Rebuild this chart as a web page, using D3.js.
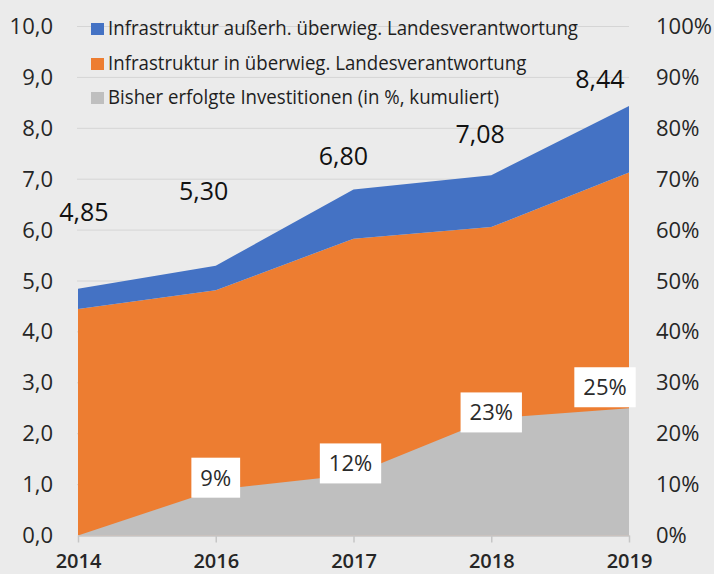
<!DOCTYPE html>
<html>
<head>
<meta charset="utf-8">
<script src="https://cdn.jsdelivr.net/npm/d3@7"></script>
<style>
    html, body { margin: 0; padding: 0; background: #ebebeb; }
    svg { display: block; }
</style>
</head>
<body>
<svg id="chart"></svg>
<script>
// data
var years = ["2014", "2016", "2017", "2018", "2019"];
var landesValues = [4.45, 4.82, 5.83, 6.06, 7.13];   // orange
var ausserhValues = [0.40, 0.48, 0.97, 1.02, 1.31];  // blue
var totalLabels = ["4,85", "5,30", "6,80", "7,08", "8,44"];
var investPct = [0, 9, 12, 23, 25];                   // gray, right axis
var leftTicks = [0, 1, 2, 3, 4, 5, 6, 7, 8, 9, 10];
var rightTicks = [0, 10, 20, 30, 40, 50, 60, 70, 80, 90, 100];
var legendLabels = [
    "Infrastruktur außerh. überwieg. Landesverantwortung",
    "Infrastruktur in überwieg. Landesverantwortung",
    "Bisher erfolgte Investitionen (in %, kumuliert)"
];

// hand placed label nudges (the source places these by hand)
var totalLabelNudge = [[6, -68], [-12, -66], [-10, -24], [-11, -32], [-29, -18]];
var pctLabelNudge = [null, [0, -12], [-3, -11], [0, -6], [-24, -21]];

var params = {
    width: 714,
    height: 574,
    left: 78,
    right: 629,
    top: 26.5,
    bottom: 535.5,
    background: "#ebebeb",
    gridColor: "#d5d5d5",
    axisColor: "#c6c6c6",
    textColor: "#262626",
    blue: "#4472c4",
    orange: "#ed7d31",
    gray: "#bfbfbf",
    font: "'Open Sans', 'Noto Sans', sans-serif"
};

var chart = {
    svg: null,
    x: null,
    y: null,
    yPct: null,
    setup: function() {
        this.svg = d3.select("#chart")
            .attr("width", params.width)
            .attr("height", params.height)
            .style("font-family", params.font);
        this.svg.append("rect")
            .attr("width", params.width)
            .attr("height", params.height)
            .attr("fill", params.background);
        this.x = d3.scalePoint().domain(years).range([params.left, params.right]);
        this.y = d3.scaleLinear().domain([0, 10]).range([params.bottom, params.top]);
        this.yPct = d3.scaleLinear().domain([0, 100]).range([params.bottom, params.top]);
    },
    drawGrid: function() {
        var me = this;
        this.svg.append("g").selectAll("line").data(leftTicks.slice(1)).enter()
            .append("line")
            .attr("x1", params.left - 1)
            .attr("x2", params.right)
            .attr("y1", function(d) { return me.y(d); })
            .attr("y2", function(d) { return me.y(d); })
            .attr("stroke", params.gridColor)
            .attr("stroke-width", 1);
    },
    drawAreas: function() {
        var me = this;
        var rows = years.map(function(yr, i) {
            return { year: yr, landes: landesValues[i], ausserh: ausserhValues[i] };
        });
        var series = d3.stack().keys(["landes", "ausserh"])(rows);
        var area = d3.area()
            .x(function(d) { return me.x(d.data.year); })
            .y0(function(d) { return me.y(d[0]); })
            .y1(function(d) { return me.y(d[1]); });
        var colors = [params.orange, params.blue];
        this.svg.append("g").selectAll("path").data(series).enter()
            .append("path")
            .attr("d", area)
            .attr("fill", function(d, i) { return colors[i]; });

        var grayArea = d3.area()
            .x(function(d, i) { return me.x(years[i]); })
            .y0(params.bottom)
            .y1(function(d) { return me.yPct(d); });
        this.svg.append("path")
            .datum(investPct)
            .attr("d", grayArea)
            .attr("fill", params.gray);
    },
    drawAxes: function() {
        var fmt = function(d) { return d3.format(".1f")(d).replace(".", ","); };
        var left = this.svg.append("g")
            .attr("transform", "translate(" + params.left + ",0)")
            .call(d3.axisLeft(this.y).tickValues(leftTicks).tickFormat(fmt).tickSize(0).tickPadding(25));
        var right = this.svg.append("g")
            .attr("transform", "translate(" + params.right + ",0)")
            .call(d3.axisRight(this.yPct).tickValues(rightTicks).tickFormat(function(d) { return d + "%"; })
                .tickSize(0).tickPadding(27));
        [left, right].forEach(function(g) {
            g.select(".domain").remove();
            g.selectAll("text")
                .attr("fill", params.textColor)
                .attr("font-size", 22)
                .attr("font-family", params.font);
        });

        // labels sit tight on the bottom edge like in the source
        var bottom = this.svg.append("g")
            .attr("transform", "translate(0," + params.bottom + ")")
            .call(d3.axisBottom(this.x).tickSize(7).tickSizeOuter(0).tickPadding(11));
        bottom.select(".domain").attr("stroke", params.axisColor).attr("stroke-width", 1.5);
        bottom.selectAll("line").attr("stroke", params.axisColor).attr("stroke-width", 1.5);
        bottom.selectAll("text")
            .attr("fill", params.textColor)
            .attr("font-size", 20)
            .attr("font-weight", 600)
            .attr("font-family", params.font);
    },
    drawLabels: function() {
        var me = this;
        var totals = landesValues.map(function(v, i) { return v + ausserhValues[i]; });
        this.svg.append("g").selectAll("text").data(totalLabels).enter()
            .append("text")
            .attr("x", function(d, i) { return me.x(years[i]) + totalLabelNudge[i][0]; })
            .attr("y", function(d, i) { return me.y(totals[i]) + totalLabelNudge[i][1]; })
            .attr("text-anchor", "middle")
            .attr("font-size", 25)
            .attr("fill", "#111")
            .text(function(d) { return d; });

        var boxH = 40;
        investPct.forEach(function(p, i) {
            if (!pctLabelNudge[i]) return;
            var cx = me.x(years[i]) + pctLabelNudge[i][0];
            var cy = me.yPct(p) + pctLabelNudge[i][1];
            var g = me.svg.append("g");
            var rect = g.append("rect").attr("fill", "#ffffff");
            var t = g.append("text")
                .attr("x", cx)
                .attr("y", cy + 8)
                .attr("text-anchor", "middle")
                .attr("font-size", 22)
                .attr("fill", "#2a2a2a")
                .text(p + "%");
            var w = t.node().getComputedTextLength() + 18;
            rect.attr("x", cx - w / 2)
                .attr("y", cy - boxH / 2)
                .attr("width", w)
                .attr("height", boxH);
        });
    },
    drawLegend: function() {
        var colors = [params.blue, params.orange, params.gray];
        var baselines = [35, 70, 104];
        var g = this.svg.append("g");
        var texts = [];
        legendLabels.forEach(function(label, i) {
            g.append("rect")
                .attr("x", 91)
                .attr("y", baselines[i] - 12)
                .attr("width", 13)
                .attr("height", 12)
                .attr("fill", colors[i]);
            texts.push(g.append("text")
                .attr("x", 108)
                .attr("y", baselines[i])
                .attr("font-size", 20)
                .attr("fill", "#1e1e1e")
                .text(label));
        });
        // the source font is condensed, squeeze ours to the same width
        var squeeze = 470 / texts[0].node().getComputedTextLength();
        texts.forEach(function(t) {
            t.attr("textLength", t.node().getComputedTextLength() * squeeze)
                .attr("lengthAdjust", "spacingAndGlyphs");
        });
    },
    run: function() {
        this.setup();
        this.drawGrid();
        this.drawAreas();
        this.drawAxes();
        this.drawLabels();
        this.drawLegend();
    }
};

chart.run();
</script>
</body>
</html>
